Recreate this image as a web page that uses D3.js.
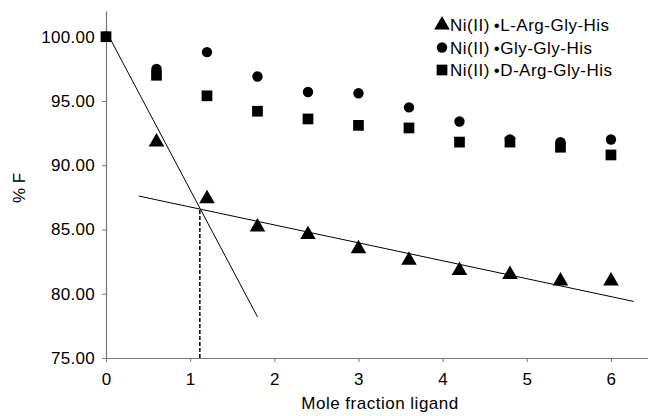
<!DOCTYPE html>
<html>
<head>
<meta charset="utf-8">
<script src="https://cdn.jsdelivr.net/npm/d3@7"></script>
<style>
  body { margin: 0; background: #fff; }
  text { font-family: "Liberation Sans", Arial, sans-serif; fill: #000; }
</style>
</head>
<body>
<script>
// data
var xValues = [0, 0.6, 1.2, 1.8, 2.4, 3, 3.6, 4.2, 4.8, 5.4, 6];
var lArgGlyHis = [100, 91.8, 87.4, 85.2, 84.6, 83.5, 82.6, 81.8, 81.5, 81.0, 81.0];
var glyGlyHis = [100, 97.5, 98.8, 96.9, 95.7, 95.6, 94.5, 93.4, 92.0, 91.8, 92.0];
var dArgGlyHis = [100, 97.0, 95.4, 94.2, 93.6, 93.1, 92.9, 91.8, 91.8, 91.4, 90.8];
var seriesNames = ["Ni(II)\u2009\u2022L-Arg-Gly-His", "Ni(II)\u2009\u2022Gly-Gly-His", "Ni(II)\u2009\u2022D-Arg-Gly-His"];
var yTicks = [75, 80, 85, 90, 95, 100];
var xTicks = [0, 1, 2, 3, 4, 5, 6];
// fitted lines (endpoints) and their crossing
var steepFit = [[0, 100.45], [1.8, 78.2]];
var shallowFit = [[0.39, 87.6], [6.27, 79.4]];
var crossing = [1.115, 86.6];

var W = 648, H = 416;
var margin = {top: 11, right: 0, bottom: 58, left: 106};

var svg = d3.select("body").append("svg")
  .attr("width", W)
  .attr("height", H);

var x = d3.scaleLinear().domain([0, 6.44]).range([margin.left, W - margin.right]);
var y = d3.scaleLinear().domain([75, 102]).range([H - margin.bottom, margin.top]);

// axes
var xAxis = svg.append("g")
  .attr("transform", `translate(0,${y(75)})`)
  .call(d3.axisBottom(x).tickValues(xTicks).tickFormat(d3.format("d")).tickSize(4).tickSizeOuter(0).tickPadding(9));
var yAxis = svg.append("g")
  .attr("transform", `translate(${x(0)},0)`)
  .call(d3.axisLeft(y).tickValues(yTicks).tickFormat(d3.format(".2f")).tickSize(4).tickSizeOuter(0).tickPadding(7));

[xAxis, yAxis].forEach(a => {
  a.select(".domain").attr("stroke", "#777").attr("stroke-width", 1.2);
  a.selectAll(".tick line").attr("stroke", "#777");
  a.selectAll("text").style("font-size", "17px").style("letter-spacing", "0.3px").attr("fill", "#000");
});
xAxis.selectAll("text").attr("dy", "0.85em");

// fit lines
var line = d3.line().x(d => x(d[0])).y(d => y(d[1]));
svg.append("path").attr("d", line(steepFit)).attr("stroke", "#000").attr("fill", "none").attr("stroke-width", 1);
svg.append("path").attr("d", line(shallowFit)).attr("stroke", "#000").attr("fill", "none").attr("stroke-width", 1);
svg.append("path").attr("d", line([[crossing[0], 75], crossing]))
  .attr("stroke", "#000").attr("fill", "none").attr("stroke-width", 1.5).attr("stroke-dasharray", "4,2");

var triangle = d3.symbol().type(d3.symbolTriangle).size(105);
var circle = d3.symbol().type(d3.symbolCircle).size(85);
var square = d3.symbol().type(d3.symbolSquare).size(115);

// start = first index drawn (the triangle at 0 sits under the square)
function drawSeries(vals, sym, start) {
  var pts = vals.map((v, i) => [xValues[i], v]).slice(start);
  svg.append("g").selectAll("path")
    .data(pts)
    .enter()
    .append("path")
    .attr("d", sym)
    .attr("transform", d => `translate(${x(d[0])},${y(d[1])})`)
    .attr("fill", "#000");
}
drawSeries(glyGlyHis, circle, 0);
drawSeries(dArgGlyHis, square, 0);
drawSeries(lArgGlyHis, triangle, 1);

// legend
var legendSyms = [triangle, circle, square];
var legend = svg.append("g").attr("transform", "translate(442,25)");
seriesNames.forEach((name, i) => {
  var row = legend.append("g").attr("transform", `translate(0,${i * 22.5})`);
  row.append("path").attr("d", legendSyms[i]).attr("fill", "#000");
  row.append("text").attr("x", 8).attr("y", 6)
    .style("font-size", "17px").style("letter-spacing", "0.5px").text(name);
});

// axis titles
svg.append("text")
  .attr("x", 380)
  .attr("y", 409)
  .attr("text-anchor", "middle")
  .style("font-size", "17px")
  .style("letter-spacing", "0.5px")
  .text("Mole fraction ligand");
svg.append("text")
  .attr("transform", "translate(25,188) rotate(-90)")
  .attr("text-anchor", "middle")
  .style("font-size", "17px")
  .text("% F");
</script>
</body>
</html>
